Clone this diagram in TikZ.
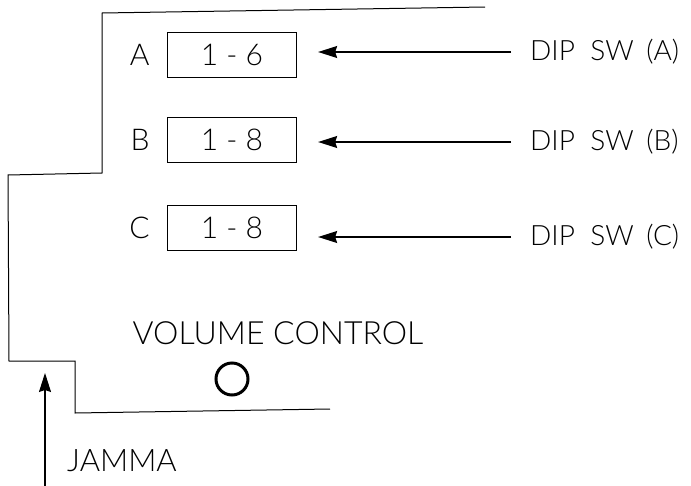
\documentclass[tikz,border=0pt]{standalone}
\usepackage{fontspec}
\setmainfont{Lato}[UprightFont=* Light]
\usepackage{tikz}
\usetikzlibrary{shapes,arrows,arrows.meta,positioning,calc}

\tikzset{
  dipbox/.style={draw,line width=1.3pt,minimum width=129pt,minimum height=45pt,inner sep=0pt,font=\fontsize{30}{36}\selectfont},
  letter/.style={font=\fontsize{30}{36}\selectfont,inner sep=0pt},
  swlabel/.style={font=\fontsize{28}{33}\selectfont,anchor=west,inner sep=0pt},
  pointer/.style={line width=1.2pt,-{Stealth[length=19pt,width=12pt,inset=2pt]}},
}

\begin{document}
\begin{tikzpicture}[x=1pt,y=-1pt]
  \useasboundingbox (0,0) rectangle (691,485);
  % board outline
  \draw[line width=1pt] (485,7) -- (102,13) -- (102,173) -- (8,175) -- (9,361)
    -- (75,361) -- (75,413) -- (330,409);
  % dip switches
  \foreach \n/\r/\y/\a in {A/1 - 6/55/52, B/1 - 8/140/142, C/1 - 8/228/237} {
    \node[dipbox] (box\n) at (232,\y) {\r};
    \node[letter,left=17pt of box\n] (let\n) {\n};
    \node[swlabel] (sw\n) at (530,\a) {DIP\hspace{0.55em}SW\hspace{0.45em}(\n)};
    \draw[pointer,shorten >=21pt,shorten <=19pt] (sw\n.west) -- (sw\n.west -| box\n.east);
  }
  % volume
  \node[letter,font=\fontsize{32}{38}\selectfont] (vol) at (278,333) {VOLUME CONTROL};
  \node[draw,circle,line width=3pt,minimum size=32pt,inner sep=0pt] (knob) at (232,379) {};
  % jamma
  \node[letter,font=\fontsize{31}{37}\selectfont,anchor=west] (jamma) at (67,461) {JAMMA};
  \coordinate (jbot) at (45,486);
  \coordinate (jtop) at (45,373);
  \draw[pointer] (jbot) -- (jtop);
\end{tikzpicture}
\end{document}
